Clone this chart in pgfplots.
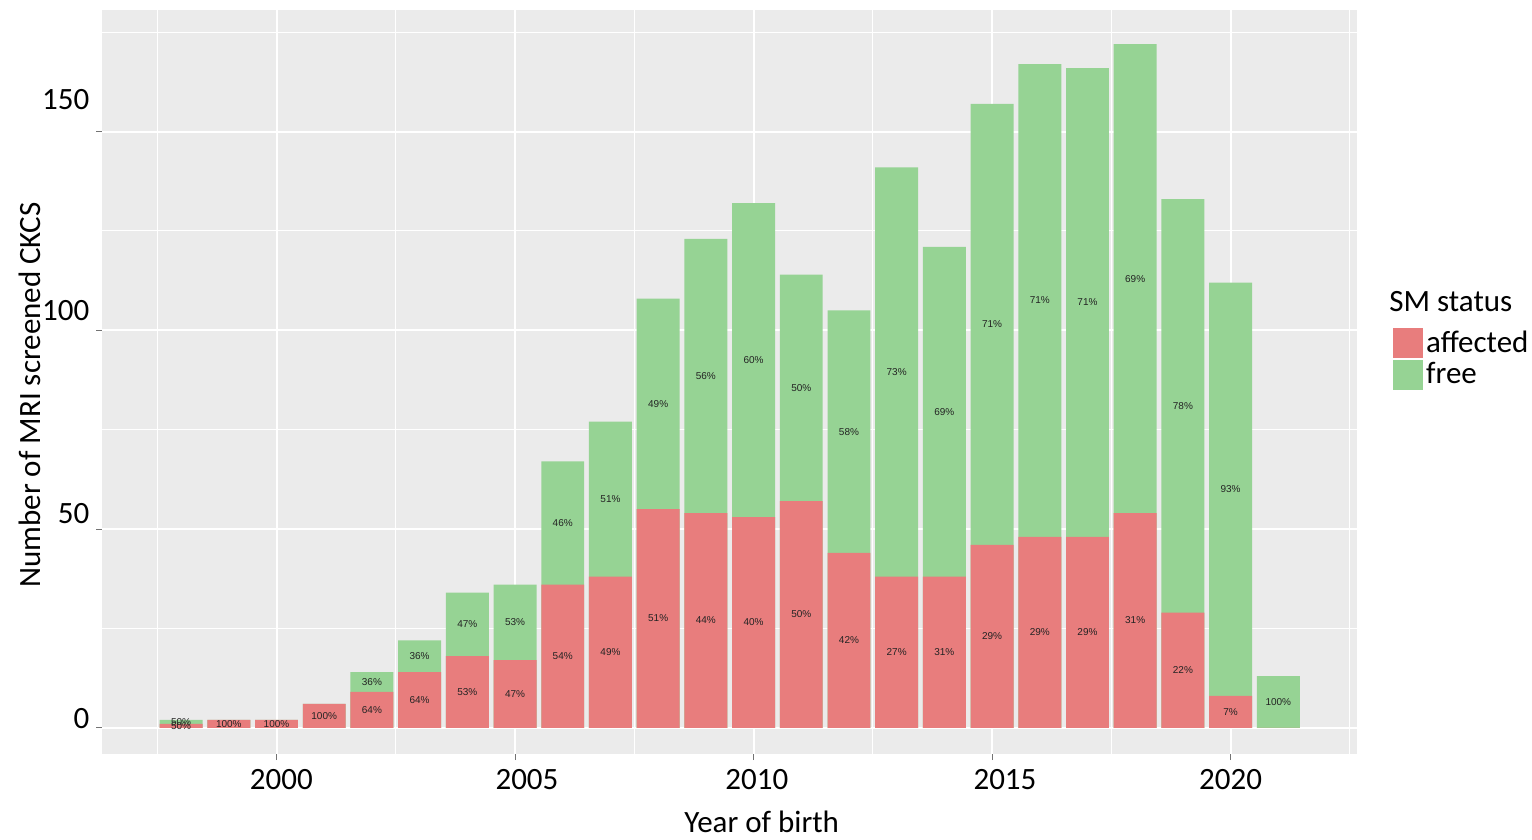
\documentclass[border=0pt]{standalone}
\usepackage{fontspec}
\setmainfont{Carlito}
\newfontfamily\lblfam{Liberation Sans}
\usepackage{pgfplots}
\pgfplotsset{compat=1.18}
\usepackage{pgfplotstable}
\definecolor{bgc}{HTML}{EBEBEB}
\definecolor{redc}{RGB}{232,125,125}
\definecolor{greenc}{RGB}{150,211,148}
\definecolor{labc}{RGB}{35,35,35}

% year, affected, free
\pgfplotstableread{
year a f
1998 1 1
1999 2 0
2000 2 0
2001 6 0
2002 9 5
2003 14 8
2004 18 16
2005 17 19
2006 36 31
2007 38 39
2008 55 53
2009 54 69
2010 53 79
2011 57 57
2012 44 61
2013 38 103
2014 38 83
2015 46 111
2016 48 119
2017 48 118
2018 54 118
2019 29 104
2020 8 104
2021 0 13
}\data

% percentage labels, affected segment
\pgfplotstableread{
year a p
1998 1 50
1999 2 100
2000 2 100
2001 6 100
2002 9 64
2003 14 64
2004 18 53
2005 17 47
2006 36 54
2007 38 49
2008 55 51
2009 54 44
2010 53 40
2011 57 50
2012 44 42
2013 38 27
2014 38 31
2015 46 29
2016 48 29
2017 48 29
2018 54 31
2019 29 22
2020 8 7
}\labA

% percentage labels, free segment
\pgfplotstableread{
year a f p
1998 1 1 50
2002 9 5 36
2003 14 8 36
2004 18 16 47
2005 17 19 53
2006 36 31 46
2007 38 39 51
2008 55 53 49
2009 54 69 56
2010 53 79 60
2011 57 57 50
2012 44 61 58
2013 38 103 73
2014 38 83 69
2015 46 111 71
2016 48 119 71
2017 48 118 71
2018 54 118 69
2019 29 104 78
2020 8 104 93
2021 0 13 100
}\labF

\newcommand{\bigfont}{\fontsize{15.5bp}{18bp}\selectfont}

\begin{document}
\begin{tikzpicture}
\path[use as bounding box] (0bp,0bp) rectangle (766bp,420bp);
\begin{axis}[
  at={(51.2bp,43bp)}, anchor=south west,
  scale only axis, width=627.3bp, height=372bp,
  xmin=1996.35, xmax=2022.65, ymin=-6.6, ymax=180.6,
  axis background/.style={fill=bgc},
  axis line style={draw=none},
  tick pos=left, tick align=outside,
  major tick length=3bp, minor tick length=0pt,
  tick style={draw=black!55, line width=0.5bp},
  xtick={2000,2005,2010,2015,2020}, xticklabels={},
  minor xtick={1997.5,2002.5,2007.5,2012.5,2017.5,2022.5},
  ytick={0,50,100,150}, yticklabels={},
  minor ytick={25,75,125,175},
  grid=both,
  major grid style={white, line width=1bp},
  minor grid style={white, line width=0.5bp},
  extra x ticks={2000.1,2005.25,2010.07,2015.27,2020},
  extra x tick labels={2000,2005,2010,2015,2020},
  extra y ticks={2.4,53.8,105.1,158},
  extra y tick labels={0,50,100,150},
  extra tick style={grid=none, major tick length=0pt},
  xticklabel style={font=\bigfont, anchor=north, yshift=-4bp},
  yticklabel style={font=\bigfont, anchor=east, xshift=-3bp},
  xlabel={Year of birth},
  ylabel={Number of MRI screened CKCS},
  every axis x label/.style={at={(axis description cs:0.5255,-0.0914)}, anchor=center, font=\bigfont},
  every axis y label/.style={at={(axis description cs:-0.058,0.4825)}, anchor=center, rotate=90, font=\bigfont},
  legend style={at={(axis description cs:1.0285,0.573)}, anchor=north west,
    draw=none, fill=none, font=\bigfont, inner sep=0pt, row sep=0.5bp,
    nodes={inner sep=1.5bp}},
  legend cell align=left,
  legend image code/.code={\fill[#1, draw=none] (0bp,-7.5bp) rectangle (15bp,7.5bp);},
]
\addplot[ybar, bar width=0.9, bar shift=0pt, fill=greenc, draw=none, forget plot]
  table[x=year, y expr=\thisrow{a}+\thisrow{f}] {\data};
\addplot[ybar, bar width=0.9, bar shift=0pt, fill=redc, draw=none, forget plot]
  table[x=year, y=a] {\data};
\addplot[only marks, mark=none, forget plot, point meta=explicit symbolic,
  nodes near coords={\pgfplotspointmeta\%},
  nodes near coords style={anchor=center, inner sep=0pt, text=labc, font=\lblfam\fontsize{5bp}{6bp}\selectfont}]
  table[x=year, y expr=\thisrow{a}/2, meta=p] {\labA};
\addplot[only marks, mark=none, forget plot, point meta=explicit symbolic,
  nodes near coords={\pgfplotspointmeta\%},
  nodes near coords style={anchor=center, inner sep=0pt, text=labc, font=\lblfam\fontsize{5bp}{6bp}\selectfont}]
  table[x=year, y expr=\thisrow{a}+\thisrow{f}/2, meta=p] {\labF};
\addlegendimage{draw=none, fill=redc}
\addlegendentry{affected}
\addlegendimage{draw=none, fill=greenc}
\addlegendentry{free}
\end{axis}
\node[anchor=west, font=\bigfont, inner sep=0pt] at (694.5bp,269bp) {SM status};
\end{tikzpicture}
\end{document}
